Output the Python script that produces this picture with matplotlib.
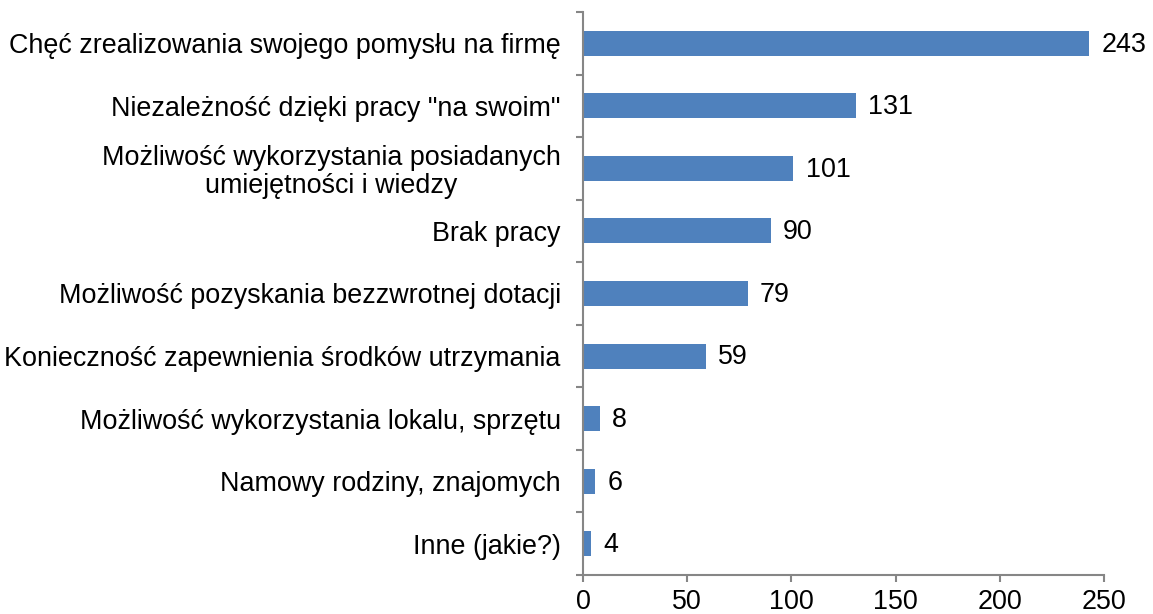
import matplotlib
matplotlib.use('Agg')
import matplotlib.pyplot as plt
import numpy as np

plt.rcParams['font.family'] = ['Liberation Sans', 'DejaVu Sans']

categories = [
    'Chęć zrealizowania swojego pomysłu na firmę',
    'Niezależność dzięki pracy "na swoim"',
    'Możliwość wykorzystania posiadanych\numiejętności i wiedzy',
    'Brak pracy',
    'Możliwość pozyskania bezzwrotnej dotacji',
    'Konieczność zapewnienia środków utrzymania',
    'Możliwość wykorzystania lokalu, sprzętu',
    'Namowy rodziny, znajomych',
    'Inne (jakie?)',
]
values = [243, 131, 101, 90, 79, 59, 8, 6, 4]
xticks = [0, 50, 100, 150, 200, 250]

axis_color = '#868686'
bar_color = '#4F81BD'
fs = 19.4

fig = plt.figure(figsize=(11.53, 6.14), dpi=100)
ax = fig.add_axes([0.5056, 0.0635, 0.9575 - 0.5056, 0.9805 - 0.0635])

y = np.arange(len(categories))
ax.barh(y, values, height=0.4, color=bar_color)
ax.set_ylim(len(categories) - 0.5, -0.5)
ax.set_xlim(0, 250)

for yi, v in zip(y, values):
    ax.annotate(str(v), (v, yi), xytext=(9, -1), textcoords='offset points',
                va='center', ha='left', fontsize=fs)

# category labels sit between the tick marks
ax.set_yticks(np.arange(-0.5, len(categories), 1))
ax.set_yticklabels([])
ax.set_yticks(y, minor=True)
ax.set_yticklabels(categories, minor=True, fontsize=fs, multialignment='center',
                   linespacing=1.1)
ax.tick_params(axis='y', which='minor', length=0, pad=16)
ax.tick_params(axis='y', which='major', length=5, color=axis_color, width=1.5)

ax.set_xticks(xticks)
ax.set_xticklabels([str(t) for t in xticks], fontsize=fs)
ax.tick_params(axis='x', length=5, color=axis_color, width=1.5, pad=5)

for side in ['top', 'right']:
    ax.spines[side].set_visible(False)
for side in ['left', 'bottom']:
    ax.spines[side].set_color(axis_color)
    ax.spines[side].set_linewidth(1.5)

fig.savefig('out.png', dpi=100)
